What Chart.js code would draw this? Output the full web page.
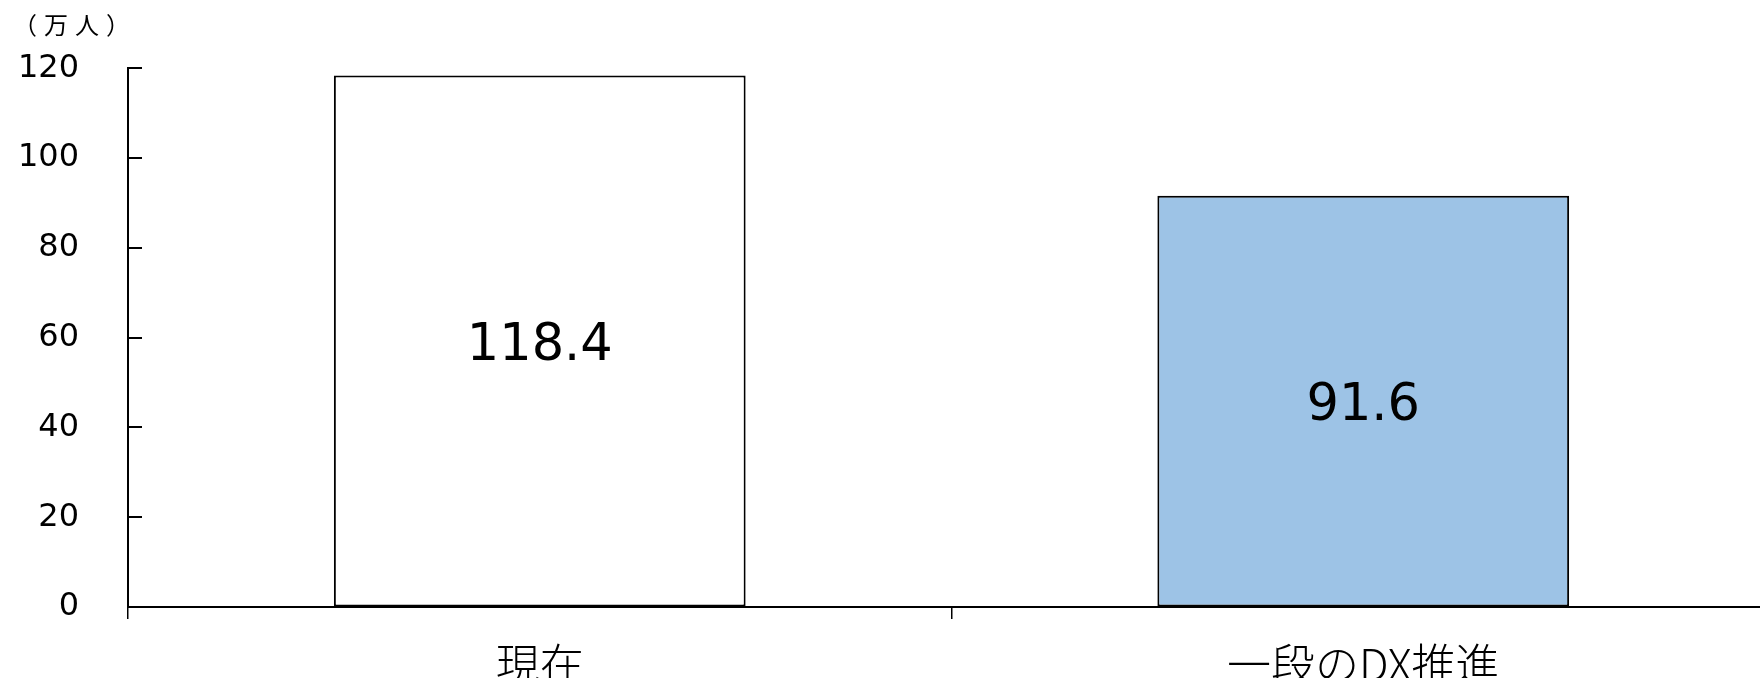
<!DOCTYPE html>
<html lang="ja">
<head>
<meta charset="utf-8">
<title>就業者数</title>
<script src="https://cdn.jsdelivr.net/npm/chart.js@4/dist/chart.umd.min.js"></script>
<style>
  html, body { margin: 0; padding: 0; background: #ffffff; overflow: hidden; }
  #wrap { position: relative; width: 1776px; height: 678px; }
</style>
</head>
<body>
<div id="wrap"><canvas id="chart"></canvas></div>
<script>
// Categories and values (万人)
const categories = ['現在', '一段のDX推進'];
const values = [118.4, 91.6];
const barColors = ['#ffffff', '#9dc3e6'];
const unitLabel = '（万人）';
const yMin = 0;
const yMax = 120;
const yStep = 20;

const NUM_FONT = '"DejaVu Sans", Verdana, sans-serif';
const CJK_FONT = '"Noto Sans CJK JP", "Noto Sans", sans-serif';

// Short tick marks drawn inward from the value axis
const innerTicks = {
  id: 'innerTicks',
  afterDraw(chart) {
    const y = chart.scales.y;
    const ctx = chart.ctx;
    ctx.save();
    ctx.strokeStyle = '#000';
    ctx.lineWidth = 2;
    y.ticks.forEach(t => {
      const py = Math.round(y.getPixelForValue(t.value));
      ctx.beginPath();
      ctx.moveTo(y.right - 1, py);
      ctx.lineTo(y.right + 14, py);
      ctx.stroke();
    });
    ctx.restore();
  }
};

// Value labels centred inside each bar
const barValues = {
  id: 'barValues',
  afterDatasetsDraw(chart) {
    const ctx = chart.ctx;
    const meta = chart.getDatasetMeta(0);
    ctx.save();
    ctx.fillStyle = '#000';
    ctx.font = '51px ' + NUM_FONT;
    ctx.textAlign = 'center';
    ctx.textBaseline = 'middle';
    meta.data.forEach((bar, i) => {
      const cy = (bar.y + bar.base) / 2 + 6;
      ctx.fillText(values[i].toFixed(1), bar.x, cy);
    });
    ctx.restore();
  }
};

// Unit caption above the value axis
const unitCaption = {
  id: 'unitCaption',
  afterDraw(chart) {
    const ctx = chart.ctx;
    ctx.save();
    ctx.fillStyle = '#000';
    ctx.font = '24px ' + CJK_FONT;
    ctx.letterSpacing = '7px';
    ctx.textAlign = 'left';
    ctx.textBaseline = 'middle';
    ctx.fillText(unitLabel, 13, 25);
    ctx.restore();
  }
};

new Chart(document.getElementById('chart'), {
  type: 'bar',
  data: {
    labels: categories,
    datasets: [{
      data: values,
      backgroundColor: barColors,
      borderColor: '#000',
      borderWidth: 2,
      borderSkipped: false,
      categoryPercentage: 1.0,
      barPercentage: 0.5
    }]
  },
  options: {
    responsive: true,
    maintainAspectRatio: false,
    animation: false,
    layout: { padding: { top: 64, right: 1, left: 0, bottom: 0 } },
    plugins: {
      legend: { display: false },
      tooltip: { enabled: false },
      title: { display: false }
    },
    scales: {
      x: {
        offset: true,
        grid: {
          offset: true,
          drawOnChartArea: false,
          drawTicks: true,
          tickLength: 12,
          color: '#000',
          lineWidth: 1.5
        },
        border: { display: true, color: '#000', width: 2 },
        ticks: {
          color: '#000',
          padding: 19,
          font: { family: CJK_FONT, size: 44, weight: 300 },
          maxRotation: 0
        },
        afterFit(scale) { scale.height = 71; }
      },
      y: {
        min: yMin,
        max: yMax,
        grid: { drawOnChartArea: false, drawTicks: false },
        border: { display: true, color: '#000', width: 2 },
        ticks: {
          stepSize: yStep,
          color: '#000',
          padding: 49,
          font: { family: NUM_FONT, size: 32 }
        },
        afterFit(scale) { scale.width = 128; }
      }
    }
  },
  plugins: [innerTicks, barValues, unitCaption]
});
</script>
</body>
</html>
